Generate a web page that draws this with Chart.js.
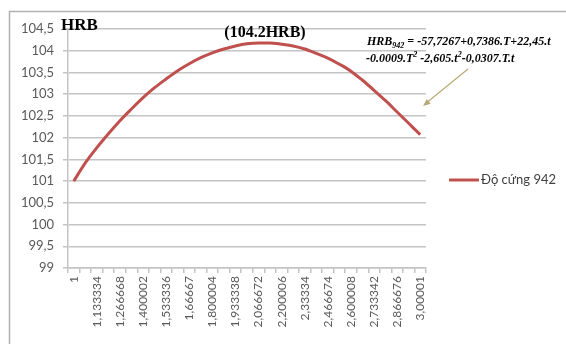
<!DOCTYPE html>
<html>
<head>
<meta charset="utf-8">
<script src="https://cdn.jsdelivr.net/npm/chart.js@4.4.1/dist/chart.umd.min.js"></script>
<style>
html, body { margin: 0; padding: 0; background: #fff; }
#wrap { position: relative; width: 566px; height: 344px; }
</style>
</head>
<body>
<div id="wrap"><canvas id="hrbChart" width="566" height="344"></canvas></div>
<script>
// thời gian t (giờ) trên trục hoành
const timeLabels = ['1', '1,066667', '1,133334', '1,200001', '1,266668', '1,333335',
	'1,400002', '1,466669', '1,533336', '1,600003', '1,66667', '1,733337',
	'1,800004', '1,866671', '1,933338', '2,000005', '2,066672', '2,133339',
	'2,200006', '2,266673', '2,33334', '2,400007', '2,466674', '2,533341',
	'2,600008', '2,666675', '2,733342', '2,800009', '2,866676', '2,933343', '3,00001'];

// độ cứng HRB
const hardness942 = [101.00, 101.42, 101.77, 102.09, 102.39, 102.66,
	102.92, 103.15, 103.35, 103.54, 103.70, 103.84,
	103.95, 104.04, 104.11, 104.16, 104.18, 104.18,
	104.15, 104.11, 104.04, 103.94, 103.83, 103.69,
	103.53, 103.32, 103.09, 102.85, 102.59, 102.33, 102.07];

const seriesName = 'Độ cứng 942';
const yMin = 99, yMax = 104.5, yStep = 0.5;
const peakText = '(104.2HRB)';

const gridColor = '#c4c4c4';
const lineColor = '#c0504d';
const textColor = '#595959';

// khung, tiêu đề, công thức, mũi tên và chú thích
const decorations = {
	id: 'decorations',
	beforeDraw(chart) {
		const ctx = chart.ctx;
		ctx.save();
		ctx.strokeStyle = '#b0b0b0';
		ctx.lineWidth = 1.5;
		ctx.strokeRect(9.5, 11.5, 700, 500);
		ctx.restore();
	},
	afterDraw(chart) {
		const ctx = chart.ctx;
		ctx.save();
		ctx.fillStyle = '#000';
		ctx.textBaseline = 'alphabetic';

		ctx.font = 'bold 17px "Liberation Serif"';
		ctx.fillText('HRB', 61, 30);

		ctx.font = 'bold 16px "Liberation Serif"';
		ctx.textAlign = 'center';
		ctx.fillText(peakText, 265, 37);
		ctx.textAlign = 'left';

		// công thức hồi quy
		const big = 'italic bold 12px "Liberation Serif"';
		const small = 'italic bold 8px "Liberation Serif"';
		function parts(list, x, y) {
			list.forEach(p => {
				ctx.font = p[1] ? small : big;
				ctx.fillText(p[0], x, y + (p[1] || 0));
				x += ctx.measureText(p[0]).width;
			});
		}
		parts([['HRB'], ['942', 3], [' = -57,7267+0,7386.T+22,45.t']], 367, 45);
		parts([['-0.0009.T'], ['2', -5], [' -2,605.t'], ['2', -5], ['-0,0307.T.t']], 366, 62);

		// mũi tên
		ctx.strokeStyle = '#b9a978';
		ctx.fillStyle = '#b9a978';
		ctx.lineWidth = 1.2;
		ctx.beginPath();
		ctx.moveTo(468, 69);
		ctx.lineTo(425, 104);
		ctx.stroke();
		const ang = Math.atan2(104 - 69, 425 - 468);
		ctx.beginPath();
		ctx.moveTo(423, 106);
		ctx.lineTo(423 - 8 * Math.cos(ang - 0.4), 106 - 8 * Math.sin(ang - 0.4));
		ctx.lineTo(423 - 8 * Math.cos(ang + 0.4), 106 - 8 * Math.sin(ang + 0.4));
		ctx.closePath();
		ctx.fill();

		// chú thích
		ctx.strokeStyle = lineColor;
		ctx.lineWidth = 3;
		ctx.beginPath();
		ctx.moveTo(449, 180);
		ctx.lineTo(479, 180);
		ctx.stroke();
		ctx.fillStyle = '#404040';
		ctx.font = '13px Lato';
		ctx.textBaseline = 'middle';
		ctx.fillText(chart.data.datasets[0].label, 481, 180);
		ctx.restore();
	}
};

const ctx = document.getElementById('hrbChart').getContext('2d');
const myChart = new Chart(ctx, {
	type: 'line',
	data: {
		labels: timeLabels,
		datasets: [{
			label: seriesName,
			data: hardness942,
			borderColor: lineColor,
			borderWidth: 3,
			pointRadius: 0,
			cubicInterpolationMode: 'monotone',
			fill: false
		}]
	},
	options: {
		responsive: false,
		animation: false,
		devicePixelRatio: 1,
		layout: {
			padding: { left: 9, top: 29, right: 140, bottom: 0 }
		},
		plugins: {
			legend: { display: false },
			tooltip: { enabled: false }
		},
		scales: {
			x: {
				offset: true,
				afterFit: function(scale) { scale.height = 76; },
				grid: {
					offset: true,
					drawOnChartArea: false,
					drawTicks: true,
					tickLength: 5,
					color: gridColor,
					lineWidth: 1.5
				},
				border: { color: gridColor, width: 1.5 },
				ticks: {
					autoSkip: false,
					minRotation: 90,
					maxRotation: 90,
					padding: 3,
					color: textColor,
					font: { family: 'Lato', size: 12 },
					callback: function(value, index) {
						return index % 2 === 0 ? timeLabels[index] : '';
					}
				}
			},
			y: {
				min: yMin,
				max: yMax,
				afterFit: function(scale) { scale.width = 59; },
				grid: {
					color: gridColor,
					lineWidth: 1.5,
					tickLength: 5
				},
				border: { color: gridColor, width: 1.5 },
				ticks: {
					stepSize: yStep,
					padding: 9,
					color: textColor,
					font: { family: 'Lato', size: 13 },
					callback: function(value) {
						return String(value).replace('.', ',');
					}
				}
			}
		}
	},
	plugins: [decorations]
});
</script>
</body>
</html>
